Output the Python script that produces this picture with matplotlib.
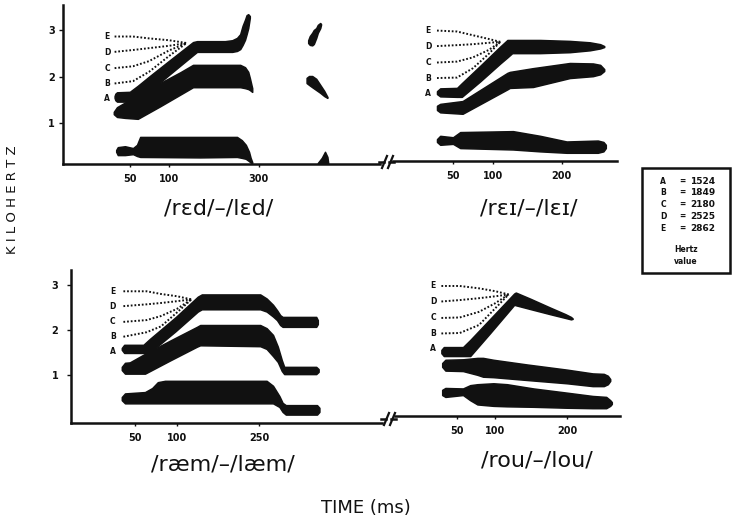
import matplotlib
matplotlib.use("Agg")
import matplotlib.pyplot as plt
from matplotlib.lines import Line2D
from matplotlib.patches import Rectangle

# ---------------- data ----------------
hz_letters = ['A', 'B', 'C', 'D', 'E']
hz_values = [1524, 1849, 2180, 2525, 2862]
dot_letters = ['B', 'C', 'D', 'E']

# panel 1: /rɛd/-/lɛd/   (time in ms, frequency in kHz)
red_f3_t = [32, 33, 35, 51, 61, 76, 101, 130, 135, 170, 179, 185, 189, 192, 195, 197, 199, 201]
red_f3_hi = [1.58, 1.63, 1.66, 1.67, 1.80, 2.01, 2.35, 2.74, 2.76, 2.76, 2.78, 2.83, 2.91, 3.09, 3.22, 3.32, 3.34, 3.30]
red_f3_lo = [1.54, 1.49, 1.46, 1.46, 1.47, 1.69, 2.05, 2.46, 2.53, 2.53, 2.53, 2.55, 2.59, 2.68, 2.79, 2.91, 3.04, 3.26]
red_f2_t = [31, 35, 45, 61, 89, 114, 130, 189, 195, 199, 201, 204]
red_f2_hi = [1.24, 1.34, 1.44, 1.59, 1.86, 2.09, 2.25, 2.25, 2.20, 2.10, 1.97, 1.75]
red_f2_lo = [1.19, 1.13, 1.11, 1.09, 1.36, 1.61, 1.77, 1.77, 1.75, 1.73, 1.71, 1.67]
red_f1_t = [34, 36, 45, 55, 60, 64, 139, 185, 191, 196, 200, 202, 204]
red_f1_hi = [0.42, 0.48, 0.50, 0.46, 0.53, 0.70, 0.70, 0.70, 0.63, 0.53, 0.38, 0.25, 0.16]
red_f1_lo = [0.38, 0.31, 0.31, 0.33, 0.29, 0.27, 0.26, 0.27, 0.25, 0.23, 0.18, 0.15, 0.14]
red_b1_t = [274, 276, 279, 281, 284, 286, 289, 290]
red_b1_hi = [2.78, 2.87, 2.94, 3.00, 3.04, 3.11, 3.15, 3.13]
red_b1_lo = [2.72, 2.68, 2.67, 2.70, 2.83, 2.94, 3.04, 3.11]
red_b2_t = [272, 275, 279, 284, 289, 294, 298]
red_b2_hi = [1.97, 2.01, 2.01, 1.95, 1.82, 1.69, 1.56]
red_b2_lo = [1.86, 1.82, 1.77, 1.71, 1.65, 1.58, 1.54]
red_b3_t = [286, 291, 295, 298, 299]
red_b3_hi = [0.14, 0.25, 0.38, 0.27, 0.14]
red_b3_lo = [0.12, 0.12, 0.12, 0.12, 0.12]
red_dot_t = [32, 55, 75, 100, 122]
red_dot_B = [1.85, 1.90, 2.10, 2.44, 2.72]
red_dot_C = [2.18, 2.22, 2.33, 2.56, 2.72]
red_dot_D = [2.53, 2.57, 2.61, 2.66, 2.72]
red_dot_E = [2.86, 2.86, 2.82, 2.78, 2.72]
red_xticks = [51, 100, 212]
red_xlabels = ['50', '100', '300']

# panel 2: /rɛɪ/-/lɛɪ/
rei_f3_t = [30, 34, 55, 61, 84, 109, 118, 124, 159, 196, 221, 234, 239]
rei_f3_hi = [1.57, 1.63, 1.64, 1.74, 2.11, 2.52, 2.66, 2.66, 2.66, 2.64, 2.61, 2.57, 2.53]
rei_f3_lo = [1.51, 1.46, 1.45, 1.45, 1.78, 2.16, 2.29, 2.38, 2.38, 2.40, 2.44, 2.48, 2.51]
rei_f2_t = [30, 34, 62, 90, 118, 121, 150, 196, 225, 234, 239]
rei_f2_hi = [1.26, 1.30, 1.36, 1.66, 1.96, 1.98, 2.06, 2.17, 2.16, 2.13, 2.04]
rei_f2_lo = [1.17, 1.12, 1.09, 1.35, 1.61, 1.64, 1.66, 1.85, 1.89, 1.93, 2.00]
rei_f1_t = [30, 34, 50, 59, 125, 159, 192, 231, 238, 241]
rei_f1_hi = [0.55, 0.62, 0.59, 0.70, 0.72, 0.62, 0.50, 0.52, 0.49, 0.43]
rei_f1_lo = [0.49, 0.43, 0.45, 0.36, 0.33, 0.29, 0.26, 0.26, 0.29, 0.36]
rei_dot_t = [30, 55, 75, 95, 109]
rei_dot_B = [1.85, 1.86, 2.06, 2.37, 2.62]
rei_dot_C = [2.18, 2.20, 2.29, 2.45, 2.62]
rei_dot_D = [2.53, 2.55, 2.57, 2.60, 2.62]
rei_dot_E = [2.86, 2.84, 2.76, 2.68, 2.62]
rei_xticks = [50, 100, 186]
rei_xlabels = ['50', '100', '200']

# panel 3: /ræm/-/læm/
ram_f3_t = [31, 34, 58, 66, 98, 126, 131, 204, 212, 220, 225, 229, 232, 274, 276]
ram_f3_hi = [1.60, 1.67, 1.67, 1.80, 2.28, 2.74, 2.79, 2.79, 2.70, 2.56, 2.44, 2.33, 2.29, 2.29, 2.22]
ram_f3_lo = [1.56, 1.49, 1.49, 1.50, 1.97, 2.41, 2.46, 2.46, 2.41, 2.30, 2.22, 2.11, 2.07, 2.07, 2.13]
ram_f2_t = [31, 35, 41, 60, 91, 125, 129, 204, 212, 220, 226, 231, 234, 274, 277]
ram_f2_hi = [1.18, 1.27, 1.28, 1.47, 1.76, 2.07, 2.11, 2.11, 2.04, 1.89, 1.63, 1.33, 1.18, 1.18, 1.13]
ram_f2_lo = [1.11, 1.03, 1.03, 1.03, 1.32, 1.63, 1.66, 1.64, 1.58, 1.42, 1.29, 1.09, 1.02, 1.02, 1.07]
ram_f1_t = [31, 35, 60, 69, 76, 85, 212, 220, 228, 232, 236, 275, 278]
ram_f1_hi = [0.51, 0.59, 0.62, 0.71, 0.84, 0.87, 0.87, 0.76, 0.53, 0.38, 0.33, 0.33, 0.27]
ram_f1_lo = [0.44, 0.37, 0.37, 0.37, 0.37, 0.37, 0.37, 0.37, 0.29, 0.18, 0.12, 0.12, 0.18]
ram_dot_t = [33, 62, 80, 100, 118]
ram_dot_B = [1.85, 1.95, 2.08, 2.39, 2.68]
ram_dot_C = [2.18, 2.22, 2.31, 2.47, 2.68]
ram_dot_D = [2.53, 2.57, 2.60, 2.64, 2.68]
ram_dot_E = [2.86, 2.86, 2.80, 2.75, 2.68]
ram_xticks = [48, 100, 203]
ram_xlabels = ['50', '100', '250']

# panel 4: /rou/-/lou/
rou_f3_t = [33, 36, 60, 69, 94, 119, 124, 126, 144, 169, 188, 195, 197]
rou_f3_hi = [1.50, 1.56, 1.56, 1.71, 2.16, 2.61, 2.70, 2.72, 2.59, 2.40, 2.26, 2.20, 2.17]
rou_f3_lo = [1.43, 1.37, 1.37, 1.37, 1.86, 2.36, 2.46, 2.45, 2.37, 2.26, 2.18, 2.15, 2.16]
rou_f2_t = [34, 38, 60, 78, 85, 98, 140, 190, 222, 236, 241, 244]
rou_f2_hi = [1.22, 1.29, 1.30, 1.33, 1.33, 1.29, 1.19, 1.08, 1.00, 0.99, 0.95, 0.88]
rou_f2_lo = [1.14, 1.06, 1.05, 0.97, 0.93, 0.92, 0.86, 0.79, 0.73, 0.73, 0.77, 0.84]
rou_f1_t = [34, 38, 60, 69, 78, 98, 115, 148, 190, 222, 239, 244, 246]
rou_f1_hi = [0.65, 0.69, 0.68, 0.75, 0.77, 0.79, 0.77, 0.68, 0.59, 0.52, 0.50, 0.43, 0.39]
rou_f1_lo = [0.54, 0.50, 0.54, 0.43, 0.34, 0.31, 0.30, 0.29, 0.27, 0.26, 0.26, 0.31, 0.35]
rou_dot_t = [33, 56, 80, 100, 117]
rou_dot_B = [1.85, 1.86, 2.03, 2.38, 2.68]
rou_dot_C = [2.18, 2.19, 2.31, 2.49, 2.68]
rou_dot_D = [2.53, 2.56, 2.60, 2.64, 2.68]
rou_dot_E = [2.86, 2.86, 2.81, 2.75, 2.68]
rou_xticks = [53, 100, 190]
rou_xlabels = ['50', '100', '200']

y_ticks = [1, 2, 3]
y_labels = ['1', '2', '3']

panel_titles = ['/rɛd/–/lɛd/', '/rɛɪ/–/lɛɪ/', '/ræm/–/læm/', '/rou/–/lou/']

# ---------------- figure ----------------
W, H = 733, 520
INK = '#111111'
fig = plt.figure(figsize=(W / 100, H / 100), dpi=100)
fig.patch.set_facecolor('white')
plt.rcParams['font.family'] = ['DejaVu Sans']


def fx(px):
    return px / W


def fy(py):
    return 1 - py / H


def make_axes(x0, x1, y0, y1):
    return fig.add_axes([fx(x0), fy(y1), (x1 - x0) / W, (y1 - y0) / H])


panels = [
    dict(box=(63, 380, 5, 164), xlim=(-32.5, 363.75), ylim=(0.118, 3.538), left=True,
         bands=[(red_f3_t, red_f3_lo, red_f3_hi), (red_f2_t, red_f2_lo, red_f2_hi),
                (red_f1_t, red_f1_lo, red_f1_hi), (red_b1_t, red_b1_lo, red_b1_hi),
                (red_b2_t, red_b2_lo, red_b2_hi), (red_b3_t, red_b3_lo, red_b3_hi)],
         dot_t=red_dot_t, dots=[red_dot_B, red_dot_C, red_dot_D, red_dot_E], lab_x=22.5,
         xt=red_xticks, xl=red_xlabels, ypad=3),
    dict(box=(393, 617, 5, 161), xlim=(-25, 255), ylim=(0.085, 3.404), left=False,
         bands=[(rei_f3_t, rei_f3_lo, rei_f3_hi), (rei_f2_t, rei_f2_lo, rei_f2_hi),
                (rei_f1_t, rei_f1_lo, rei_f1_hi)],
         dot_t=rei_dot_t, dots=[rei_dot_B, rei_dot_C, rei_dot_D, rei_dot_E], lab_x=18.75,
         xt=rei_xticks, xl=rei_xlabels, ypad=3),
    dict(box=(71, 382, 270, 423), xlim=(-32.5, 356.25), ylim=(-0.067, 3.333), left=True,
         bands=[(ram_f3_t, ram_f3_lo, ram_f3_hi), (ram_f2_t, ram_f2_lo, ram_f2_hi),
                (ram_f1_t, ram_f1_lo, ram_f1_hi)],
         dot_t=ram_dot_t, dots=[ram_dot_B, ram_dot_C, ram_dot_D, ram_dot_E], lab_x=19.6,
         xt=ram_xticks, xl=ram_xlabels, ypad=6),
    dict(box=(395, 620, 270, 416), xlim=(-25, 256.25), ylim=(0.094, 3.2), left=False,
         bands=[(rou_f3_t, rou_f3_lo, rou_f3_hi), (rou_f2_t, rou_f2_lo, rou_f2_hi),
                (rou_f1_t, rou_f1_lo, rou_f1_hi)],
         dot_t=rou_dot_t, dots=[rou_dot_B, rou_dot_C, rou_dot_D, rou_dot_E], lab_x=22.9,
         xt=rou_xticks, xl=rou_xlabels, ypad=3),
]

for p in panels:
    ax = make_axes(*p['box'])
    ax.set_facecolor('none')
    ax.set_xlim(*p['xlim'])
    ax.set_ylim(*p['ylim'])
    for t, lo, hi in p['bands']:
        ax.fill_between(t, lo, hi, color=INK, lw=1.1, edgecolor=INK, joinstyle='round')
    for vals in p['dots']:
        ax.plot(p['dot_t'], vals, color=INK, lw=1.4, ls=(0, (0.9, 1.0)))
    for letter, hz in zip(hz_letters, hz_values):
        ax.text(p['lab_x'], hz / 1000, letter, ha='center', va='center',
                fontsize=5.5, fontweight='bold', color=INK)
    for s in ['top', 'right']:
        ax.spines[s].set_visible(False)
    ax.spines['bottom'].set_linewidth(1.8)
    ax.spines['bottom'].set_color(INK)
    ax.set_xticks(p['xt'], p['xl'])
    ax.tick_params(axis='x', length=2.5, width=1, pad=5, labelsize=7, colors=INK)
    for lab in ax.get_xticklabels():
        lab.set_fontweight('bold')
    if p['left']:
        ax.spines['left'].set_linewidth(1.8)
        ax.spines['left'].set_color(INK)
        ax.set_yticks(y_ticks, y_labels)
        ax.tick_params(axis='y', length=3, width=1, pad=p['ypad'], labelsize=7, colors=INK)
        for lab in ax.get_yticklabels():
            lab.set_fontweight('bold')
    else:
        ax.spines['left'].set_visible(False)
        ax.set_yticks([])

# axis break marks
for (xa, xb, yc) in [(380, 393, 162), (382, 395, 419)]:
    for dx in (2, 8):
        fig.add_artist(Line2D([fx(xa + dx), fx(xa + dx + 5)], [fy(yc + 6), fy(yc - 6)],
                              color=INK, lw=1.6))
    fig.add_artist(Line2D([fx(xa - 1), fx(xa + 4)], [fy(yc), fy(yc)], color=INK, lw=1.8))
    fig.add_artist(Line2D([fx(xa + 9), fx(xb + 1)], [fy(yc), fy(yc)], color=INK, lw=1.8))

# panel titles
for (cx, cy), title in zip([(219, 208), (529, 208), (223, 464), (537, 460)], panel_titles):
    fig.text(fx(cx), fy(cy), title, ha='center', va='center', fontsize=16, color=INK)

fig.text(fx(13), fy(200), 'K I L O H E R T Z', rotation=90, ha='center', va='center',
         fontsize=9.5, color=INK)
fig.text(fx(366), fy(508), 'TIME (ms)', ha='center', va='center', fontsize=13, color=INK)

# legend box
fig.add_artist(Rectangle((fx(642), fy(273)), 88 / W, 105 / H, fill=False,
                         edgecolor=INK, lw=1.8))
for i, (letter, hz) in enumerate(zip(hz_letters, hz_values)):
    yy = fy(181 + i * 11.8)
    fig.text(fx(663), yy, letter, ha='center', va='center', fontsize=5.5,
             fontweight='bold', color=INK)
    fig.text(fx(682), yy, '=', ha='center', va='center', fontsize=5.5,
             fontweight='bold', color=INK)
    fig.text(fx(690), yy, str(hz), ha='left', va='center', fontsize=6.5,
             fontweight='bold', color=INK)
fig.text(fx(686), fy(249), 'Hertz', ha='center', va='center', fontsize=5.5,
         fontweight='bold', color=INK)
fig.text(fx(686), fy(261), 'value', ha='center', va='center', fontsize=5.5,
         fontweight='bold', color=INK)

fig.savefig('out.png', dpi=100, facecolor='white')
